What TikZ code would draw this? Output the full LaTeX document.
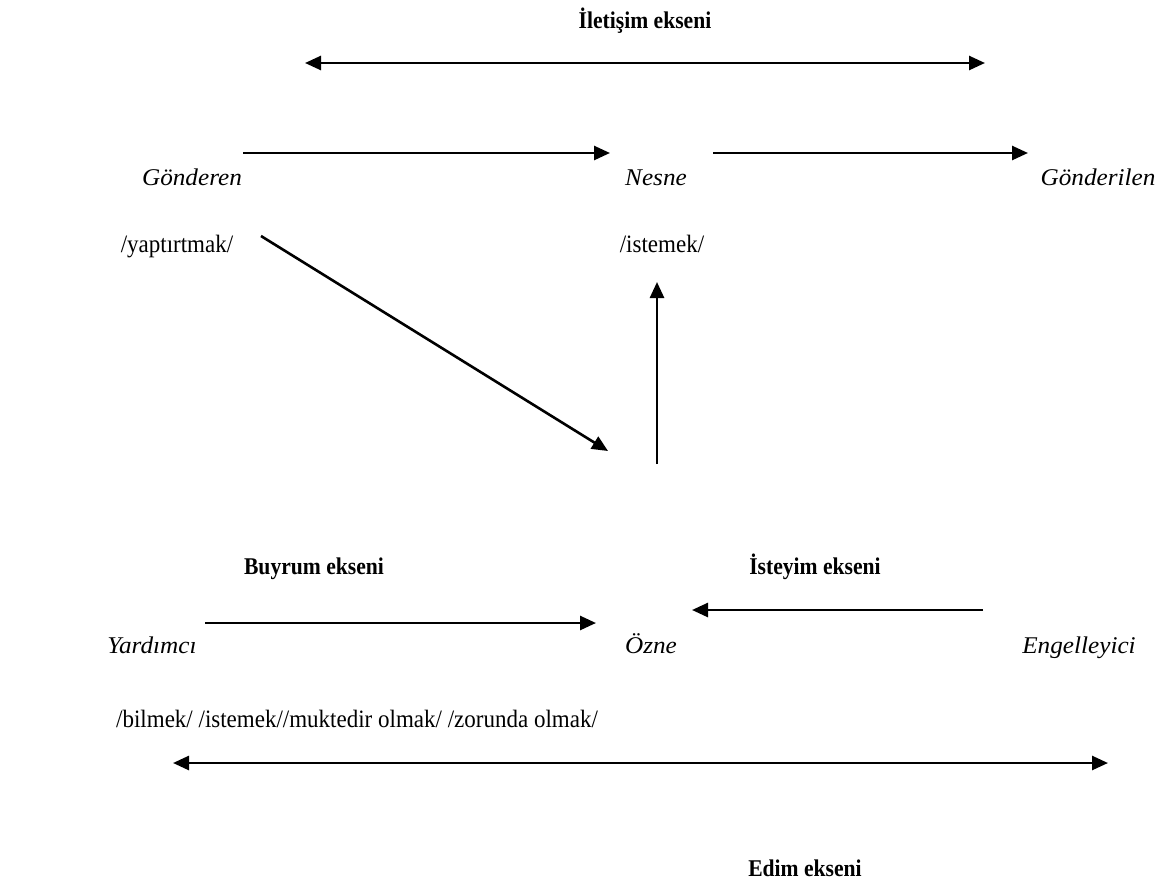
\documentclass[tikz,border=0pt]{standalone}
\usepackage{fontspec}
\setmainfont{Liberation Serif}
\newfontfamily\actantfont[FakeStretch=1.05]{Liberation Serif}
\newfontfamily\modalfont[FakeStretch=0.92]{Liberation Serif}
\newfontfamily\titlefont[FakeStretch=0.9]{Liberation Serif}
\usetikzlibrary{arrows.meta}
\tikzset{
  tip/.tip={Triangle[length=16pt,width=14pt]},
  axis/.style={line width=2.6pt, {tip}-{tip}},
  link/.style={line width=2.6pt, -{tip}},
  actant/.style={font=\actantfont\fontsize{24}{28}\selectfont\itshape, inner sep=0pt, anchor=base},
  modal/.style={font=\modalfont\fontsize{25}{28}\selectfont, inner sep=0pt, anchor=base},
  axislabel/.style={font=\titlefont\fontsize{24}{28}\selectfont\bfseries, inner sep=0pt, anchor=base},
}
\begin{document}
\begin{tikzpicture}[x=1pt,y=-1pt]
\useasboundingbox (0,0) rectangle (1165,892);

% axis titles
\node[axislabel] (iletisim) at (645,28) {İletişim ekseni};
\node[axislabel] (buyrum) at (314,574) {Buyrum ekseni};
\node[axislabel] (isteyim) at (815,574) {İsteyim ekseni};
\node[axislabel] (edim) at (805,876) {Edim ekseni};

% actants
\node[actant] (gonderen) at (192,185) {Gönderen};
\node[actant] (nesne) at (656,185) {Nesne};
\node[actant] (gonderilen) at (1098,185) {Gönderilen};
\node[actant] (yardimci) at (152,653) {Yardımcı};
\node[actant] (ozne) at (651,653) {Özne};
\node[actant] (engelleyici) at (1079,653) {Engelleyici};

% modal labels
\node[modal] (yaptirtmak) at (177,252) {/yaptırtmak/};
\node[modal] (istemek) at (662,252) {/istemek/};
\node[modal] (kipler) at (357,727) {/bilmek/ /istemek//muktedir olmak/ /zorunda olmak/};

% arrow end points
\coordinate (ileA) at (305,63);
\coordinate (ileB) at (985,63);
\coordinate (gnA) at (243,153);
\coordinate (gnB) at (610,153);
\coordinate (ngA) at (713,153);
\coordinate (ngB) at (1028,153);
\coordinate (dgA) at (261,236);
\coordinate (dgB) at (608,451);
\coordinate (vtA) at (657,464);
\coordinate (vtB) at (657,282);
\coordinate (yoA) at (205,623);
\coordinate (yoB) at (596,623);
\coordinate (eoA) at (983,610);
\coordinate (eoB) at (692,610);
\coordinate (edA) at (173,763);
\coordinate (edB) at (1108,763);

% connectors
\draw[axis] (ileA) -- (ileB);
\draw[link] (gnA) -- (gnB);
\draw[link] (ngA) -- (ngB);
\draw[link] (dgA) -- (dgB);
\draw[link] (vtA) -- (vtB);
\draw[link] (yoA) -- (yoB);
\draw[link] (eoA) -- (eoB);
\draw[axis] (edA) -- (edB);
\end{tikzpicture}
\end{document}
